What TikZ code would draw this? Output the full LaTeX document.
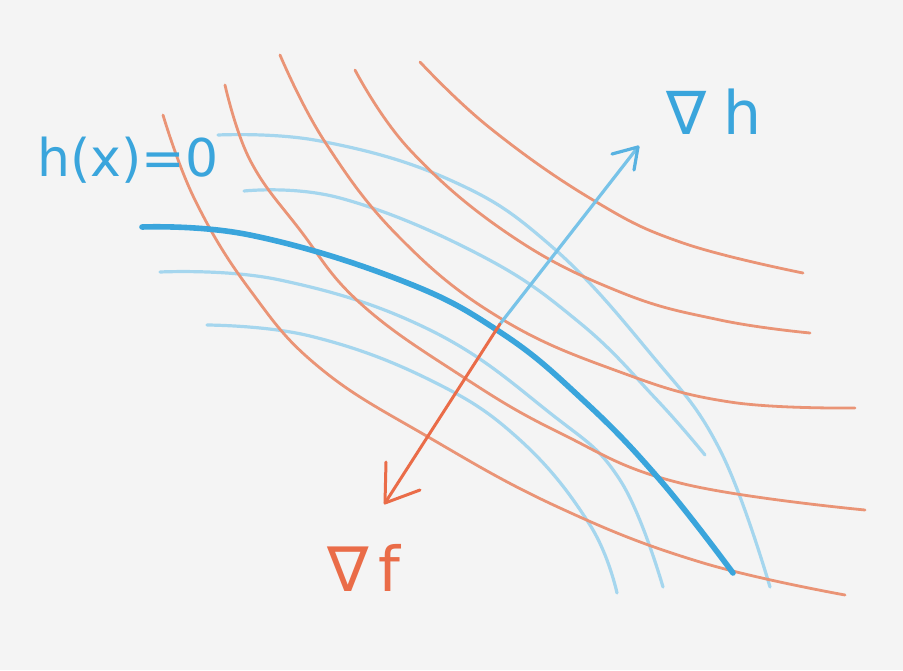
\documentclass[tikz,border=0pt]{standalone}
\usepackage{fontspec}
\newfontfamily\lblfont{DejaVu Sans}
\usetikzlibrary{arrows.meta}
\definecolor{paper}{RGB}{244,244,244}
\definecolor{redc}{RGB}{234,148,118}
\definecolor{reda}{RGB}{234,108,72}
\definecolor{lblue}{RGB}{165,214,238}
\definecolor{dblue}{RGB}{58,165,220}
\definecolor{ablue}{RGB}{120,195,232}
\begin{document}
\begin{tikzpicture}[x=1pt,y=-1pt,line cap=round,line join=round]
\tikzset{
  redline/.style={draw=redc,line width=2.8pt},
  lbline/.style={draw=lblue,line width=3.2pt},
  dbline/.style={draw=dblue,line width=5.6pt},
  redarrow/.style={draw=reda,line width=3pt},
  bluearrow/.style={draw=ablue,line width=3.2pt},
  lbl/.style={inner sep=0pt,font=\lblfont\fontsize{52}{60}\selectfont}
}
\fill[paper] (0,0) rectangle (903,670);
\useasboundingbox (0,0) rectangle (903,670);
% light blue level curves of h
\draw[lbline] plot[smooth,tension=0.7] coordinates {(218,135) (320,141) (450,180) (550,245) (650,353) (720,450) (770,587)};
\draw[lbline] plot[smooth,tension=0.7] coordinates {(244,191) (340,198) (480,255) (580,323) (657,400) (705,455)};
\draw[lbline] plot[smooth,tension=0.7] coordinates {(160,272) (280,280) (430,330) (550,413) (620,480) (663,587)};
\draw[lbline] plot[smooth,tension=0.7] coordinates {(207,325) (310,336) (430,380) (520,440) (590,525) (617,593)};
% red level curves of f
\draw[redline] plot[smooth,tension=0.7] coordinates {(163,115) (195,200) (250,290) (320,368) (430,438) (560,508) (700,562) (845,595)};
\draw[redline] plot[smooth,tension=0.7] coordinates {(225,85) (250,160) (300,230) (360,303) (460,375) (560,433) (680,483) (865,510)};
\draw[redline] plot[smooth,tension=0.7] coordinates {(280,55) (325,142) (400,238) (500,318) (620,372) (730,402) (855,408)};
\draw[redline] plot[smooth,tension=0.7] coordinates {(355,70) (410,150) (510,235) (620,292) (720,320) (810,333)};
\draw[redline] plot[smooth,tension=0.7] coordinates {(420,62) (490,128) (593,200) (683,243) (803,273)};
% constraint curve h(x)=0
\draw[dbline] plot[smooth,tension=0.7] coordinates {(142,227) (250,235) (400,280) (500,332) (583,400) (660,480) (733,573)};
% gradient arrows
\coordinate (p) at (500,324);
\coordinate (gh) at (638,147);
\coordinate (gha) at (612,154);
\coordinate (ghb) at (634,170);
\coordinate (gf) at (385,503);
\coordinate (gfa) at (386,462);
\coordinate (gfb) at (420,490);
\draw[bluearrow] (p) -- (gh);
\draw[bluearrow,draw=dblue!85] (gha) -- (gh) -- (ghb);
\draw[redarrow] (p) -- (gf);
\draw[redarrow] (gfa) -- (gf) -- (gfb);
% labels
\node[lbl,text=dblue] (lh) at (128,160) {h(x)=0};
\node[lbl,text=dblue,font=\lblfont\fontsize{60}{70}\selectfont] (lgh) at (714,112) {∇\hspace{16pt}h};
\node[lbl,text=reda,font=\lblfont\fontsize{62}{70}\selectfont] (lgf) at (364,568) {∇\,f};
\end{tikzpicture}
\end{document}
